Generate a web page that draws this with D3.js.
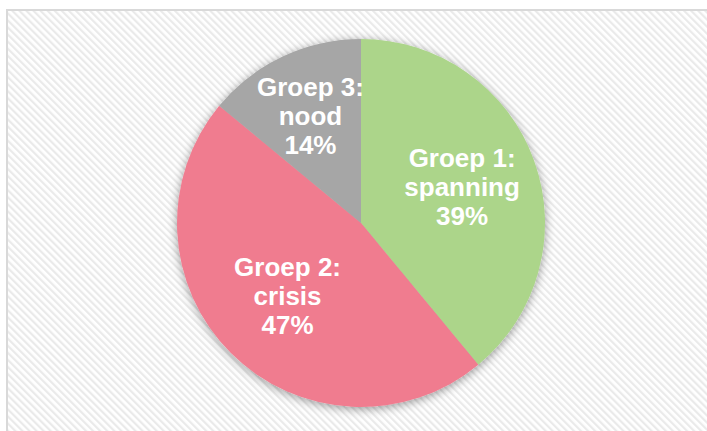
<!DOCTYPE html>
<html>
<head>
<meta charset="utf-8">
<script src="https://cdn.jsdelivr.net/npm/d3@7"></script>
<style>
  body { margin: 0; background: #fff; }
</style>
</head>
<body>
<div id="chart"></div>
<script>
const groups = ["Groep 1:", "Groep 2:", "Groep 3:"];
const names = ["spanning", "crisis", "nood"];
const shares = [39, 47, 14];
const colors = ["#acd58a", "#f07c8f", "#a6a6a6"];

const width = 707, height = 431;
const cx = 361, cy = 223, radius = 184;

const svg = d3.select("#chart").append("svg")
  .attr("width", width)
  .attr("height", height);

const defs = svg.append("defs");

// diagonal hatch for the chart area
const pat = defs.append("pattern")
  .attr("id", "hatch")
  .attr("patternUnits", "userSpaceOnUse")
  .attr("width", 5)
  .attr("height", 5)
  .attr("patternTransform", "rotate(-45)");
pat.append("rect").attr("width", 5).attr("height", 5).attr("fill", "#ffffff");
pat.append("rect").attr("width", 2.2).attr("height", 5).attr("fill", "#eaeaea");

const shadow = defs.append("filter")
  .attr("id", "shadow")
  .attr("x", "-20%").attr("y", "-20%")
  .attr("width", "140%").attr("height", "140%");
shadow.append("feDropShadow")
  .attr("dx", 0)
  .attr("dy", 2)
  .attr("stdDeviation", 5)
  .attr("flood-color", "#000")
  .attr("flood-opacity", 0.4);

svg.append("rect")
  .attr("x", 7)
  .attr("y", 10)
  .attr("width", 740)
  .attr("height", 460)
  .attr("fill", "url(#hatch)")
  .attr("stroke", "#d9d9d9")
  .attr("stroke-width", 2);

const pie = d3.pie().sort(null).value(d => d);
const arcs = pie(shares);

const arc = d3.arc().innerRadius(0).outerRadius(radius);
// smaller slices push their label a bit further out
const labelR = d => 125 - 0.45 * d.data;
const labelPos = d => d3.arc().innerRadius(labelR(d)).outerRadius(labelR(d)).centroid(d);

const g = svg.append("g")
  .attr("transform", `translate(${cx},${cy})`);

g.append("g")
  .attr("filter", "url(#shadow)")
  .selectAll("path")
  .data(arcs)
  .enter()
  .append("path")
  .attr("d", arc)
  .attr("fill", (d, i) => colors[i]);

// labels: three lines each
const lineH = 29;
const labels = g.selectAll("text.lbl")
  .data(arcs)
  .enter()
  .append("text")
  .attr("class", "lbl")
  .attr("transform", d => `translate(${labelPos(d)})`)
  .attr("text-anchor", "middle")
  .attr("font-family", "Liberation Sans, Arial, sans-serif")
  .attr("font-size", 26)
  .attr("font-weight", "bold")
  .attr("fill", "#fff");

labels.each(function(d, i) {
  const t = d3.select(this);
  const lines = [groups[i], names[i], shares[i] + "%"];
  lines.forEach((s, k) => {
    t.append("tspan")
      .attr("x", 0)
      .attr("y", (k - 1) * lineH + 9)
      .text(s);
  });
});
</script>
</body>
</html>
